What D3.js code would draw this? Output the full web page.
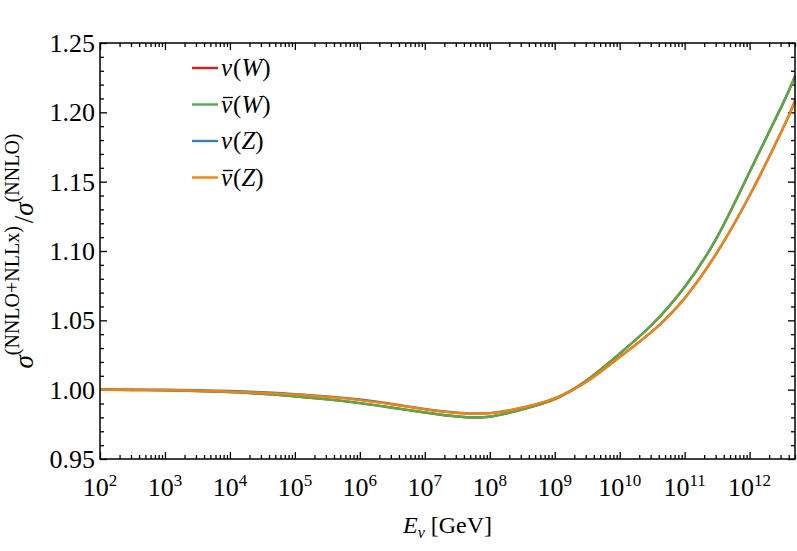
<!DOCTYPE html>
<html>
<head>
<meta charset="utf-8">
<script src="https://cdn.jsdelivr.net/npm/d3@7"></script>
<style>
body { margin: 0; background: #fff; }
svg { display: block; }
</style>
</head>
<body>
<script>
// neutrino energy in GeV, half-decade steps
const energies = [1e2, 3.16e2, 1e3, 3.16e3, 1e4, 3.16e4, 1e5, 3.16e5, 1e6, 3.16e6, 1e7, 3.16e7, 1e8, 3.16e8,
                  1e9, 3.16e9, 1e10, 3.16e10, 1e11, 3.16e11, 1e12, 3.16e12, 5e12];
// ratio sigma(NNLO+NLLx)/sigma(NNLO)
const nuW    = [1.0000, 0.9998, 0.9995, 0.9990, 0.9982, 0.9970, 0.9952, 0.9930, 0.9903, 0.9870, 0.9835, 0.9806,
                0.9805, 0.9858, 0.9932, 1.0070, 1.0260, 1.0470, 1.0740, 1.1100, 1.1570, 1.2050, 1.2260];
const nubarW = [1.0000, 0.9998, 0.9995, 0.9990, 0.9982, 0.9970, 0.9952, 0.9930, 0.9903, 0.9870, 0.9835, 0.9806,
                0.9805, 0.9858, 0.9932, 1.0070, 1.0260, 1.0470, 1.0740, 1.1100, 1.1570, 1.2050, 1.2260];
const nuZ    = [1.0000, 1.0000, 0.9999, 0.9996, 0.9990, 0.9981, 0.9968, 0.9952, 0.9929, 0.9897, 0.9861, 0.9834,
                0.9831, 0.9870, 0.9938, 1.0060, 1.0235, 1.0420, 1.0660, 1.0990, 1.1400, 1.1870, 1.2084];
const nubarZ = [1.0000, 0.9999, 0.9997, 0.9993, 0.9986, 0.9977, 0.9964, 0.9948, 0.9925, 0.9893, 0.9858, 0.9832,
                0.9830, 0.9870, 0.9938, 1.0060, 1.0235, 1.0420, 1.0660, 1.0990, 1.1400, 1.1870, 1.2084];

const xMajor = [1e2, 1e3, 1e4, 1e5, 1e6, 1e7, 1e8, 1e9, 1e10, 1e11, 1e12];
const xExp = ["2", "3", "4", "5", "6", "7", "8", "9", "10", "11", "12"];
const yMajor = [0.95, 1.00, 1.05, 1.10, 1.15, 1.20, 1.25];

const series = [
  {bar: false, boson: "W", vals: nuW, color: "#e41a1c"},
  {bar: true, boson: "W", vals: nubarW, color: "#4daf4a"},
  {bar: false, boson: "Z", vals: nuZ, color: "#377eb8"},
  {bar: true, boson: "Z", vals: nubarZ, color: "#ff7f00"}
];

const W = 797, H = 551;
const mL = 100, mR = 795, mT = 43, mB = 459;

const svg = d3.select("body").append("svg").attr("width", W).attr("height", H)
  .attr("font-family", "'Liberation Serif', 'DejaVu Serif', serif");

const x = d3.scaleLog().domain([1e2, 5e12]).range([mL, mR]);
const y = d3.scaleLinear().domain([0.95, 1.25]).range([mB, mT]);

// minor ticks
const xMinor = [];
xMajor.forEach(d => { for (let k = 2; k <= 9; k++) if (d * k <= 5e12) xMinor.push(d * k); });
const yMinor = d3.range(95, 126).map(d => d / 100).filter(d => !yMajor.some(m => Math.abs(m - d) < 1e-6));

// inward ticks on all four sides
const ax = [
  [() => d3.axisBottom(x), `translate(0,${mB})`, xMajor, xMinor],
  [() => d3.axisTop(x), `translate(0,${mT})`, xMajor, xMinor],
  [() => d3.axisLeft(y), `translate(${mL},0)`, yMajor, yMinor],
  [() => d3.axisRight(y), `translate(${mR},0)`, yMajor, yMinor]
];
ax.forEach(([mk, tr, maj, min]) => {
  [[maj, 7], [min, 4]].forEach(([vals, size]) => {
    const g = svg.append("g").attr("transform", tr)
      .call(mk().tickValues(vals).tickSize(-size).tickSizeOuter(0).tickFormat(""));
    g.select(".domain").remove();
    g.selectAll("line").attr("stroke", "#000").attr("stroke-width", 1.3);
  });
});

// data lines
const line = d3.line().x((d, i) => x(energies[i])).y(d => y(d)).curve(d3.curveNatural);
svg.append("g").selectAll("path").data(series).join("path")
  .attr("d", d => line(d.vals))
  .attr("fill", "none")
  .attr("stroke", d => d.color)
  .attr("stroke-width", 2.4);

// frame
svg.append("rect")
  .attr("x", mL).attr("y", mT)
  .attr("width", mR - mL).attr("height", mB - mT)
  .attr("fill", "none").attr("stroke", "#000").attr("stroke-width", 1.5);

// y tick labels
svg.append("g").selectAll("text").data(yMajor).join("text")
  .attr("x", mL - 5).attr("y", d => y(d))
  .attr("dy", "0.35em")
  .attr("text-anchor", "end")
  .attr("font-size", 26)
  .text(d => d.toFixed(2));

// x tick labels 10^n
const xl = svg.append("g").selectAll("text").data(xMajor).join("text")
  .attr("x", d => x(d)).attr("y", 496)
  .attr("text-anchor", "middle")
  .attr("font-size", 26);
xl.append("tspan").text("10");
xl.append("tspan").attr("dy", -10).attr("font-size", 17).text((d, i) => xExp[i]);

// x axis title
const xt = svg.append("text")
  .attr("x", (mL + mR) / 2).attr("y", 533)
  .attr("text-anchor", "middle")
  .attr("font-size", 24);
xt.append("tspan").attr("font-style", "italic").text("E");
xt.append("tspan").attr("font-style", "italic").attr("font-size", 16).attr("dy", 5).text("ν");
xt.append("tspan").attr("dy", -5).text(" [GeV]");

// y axis title
const yt = svg.append("text")
  .attr("transform", `translate(33,${(mT + mB) / 2}) rotate(-90)`)
  .attr("text-anchor", "middle")
  .attr("font-size", 27);
yt.append("tspan").attr("font-style", "italic").text("σ");
yt.append("tspan").attr("dy", -14).attr("font-size", 20).text("(NNLO+NLLx)");
yt.append("tspan").attr("dy", 14).attr("dx", 3).text("/");
yt.append("tspan").attr("font-style", "italic").text("σ");
yt.append("tspan").attr("dy", -14).attr("font-size", 20).text("(NNLO)");

// legend
const lg = svg.append("g").selectAll("g").data(series).join("g")
  .attr("transform", (d, i) => `translate(192,${68 + i * 36.5})`);
lg.append("line").attr("x1", 0).attr("x2", 26)
  .attr("stroke", d => d.color).attr("stroke-width", 2.4);
const lt = lg.append("text").attr("x", 29).attr("y", 8).attr("font-size", 25);
lt.append("tspan").attr("class", "nu").attr("font-style", "italic").text("ν");
lt.append("tspan").attr("dx", 1).text("(");
lt.append("tspan").attr("font-style", "italic").text(d => d.boson);
lt.append("tspan").text(")");
// bar over nu for antineutrinos
lg.filter(d => d.bar).each(function() {
  const g = d3.select(this);
  const w = g.select("tspan.nu").node().getComputedTextLength();
  g.append("line")
    .attr("x1", 31).attr("x2", 29 + w + 1)
    .attr("y1", -7).attr("y2", -7)
    .attr("stroke", "#000").attr("stroke-width", 1.3);
});
</script>
</body>
</html>
